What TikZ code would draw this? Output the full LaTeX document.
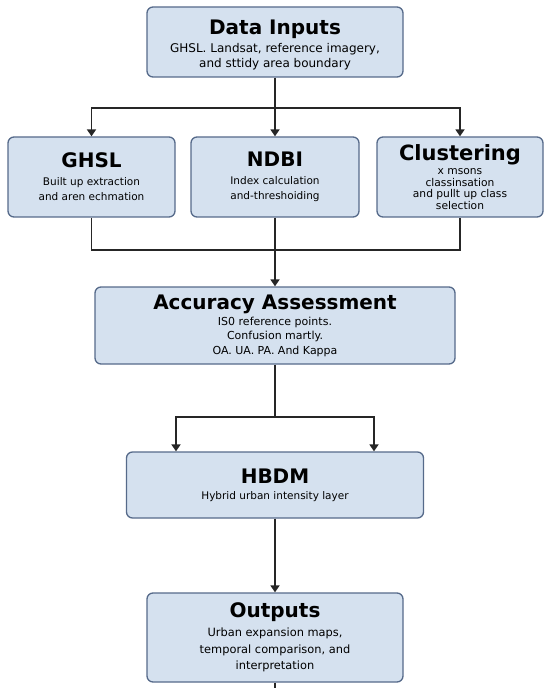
\documentclass[tikz,border=0pt]{standalone}
\usepackage{fontspec}
\setmainfont{DejaVu Sans}
\usetikzlibrary{arrows.meta,positioning}
\definecolor{blokfill}{HTML}{D5E1EF}
\definecolor{blokline}{HTML}{566A8A}
\definecolor{caraclr}{HTML}{262626}
\newcommand{\nadpis}[1]{{\fontsize{20}{22}\selectfont\bfseries #1}}
\tikzset{
  blok/.style={rectangle,rounded corners=6pt,draw=blokline,fill=blokfill,line width=1.3pt,align=center,inner sep=0pt},
  popis/.style={font=\fontsize{10.5}{15}\selectfont},
  cara/.style={draw=caraclr,line width=1.8pt},
  sipka/.style={cara,-{Triangle[length=7pt,width=9pt]}},
}

\begin{document}
\begin{tikzpicture}[x=1pt,y=-1pt]
\useasboundingbox (0,0) rectangle (550,692);
% bloky
\node[blok,font=\fontsize{12}{15}\selectfont,minimum width=256pt,minimum height=70pt] (vstup) at (275,42)
  {\rule{0pt}{21pt}\nadpis{Data Inputs}\\[3pt] GHSL. Landsat, reference imagery,\\ and sttidy area boundary};
\node[blok,popis,minimum width=167pt,minimum height=80pt] (ghsl) at (91.5,177)
  {\nadpis{GHSL}\\[3pt] Built up extraction\\ and aren echmation};
\node[blok,popis,minimum width=168pt,minimum height=80pt] (ndbi) at (275,177)
  {\nadpis{NDBI}\\[3pt] Index calculation\\ and-threshoiding};
\node[blok,font=\fontsize{10.7}{11.5}\selectfont,minimum width=166pt,minimum height=80pt] (klastr) at (460,177)
  {{\fontsize{21}{22}\selectfont\bfseries Clustering}\\[3pt] x msons\\ classinsation\\ and pullt up class\\ selection};
\node[blok,font=\fontsize{11}{14.5}\selectfont,minimum width=360pt,minimum height=77pt] (presnost) at (275,325.5)
  {\nadpis{Accuracy Assessment}\\[1.5pt] IS0 reference points.\\ Confusion martly.\\ OA. UA. PA. And Kappa};
\node[blok,popis,minimum width=297pt,minimum height=66pt] (hbdm) at (275,485)
  {\nadpis{HBDM}\\[1pt] Hybrid urban intensity layer};
\node[blok,font=\fontsize{11.4}{16.5}\selectfont,minimum width=256pt,minimum height=89pt] (vystup) at (275,637.5)
  {\nadpis{Outputs}\\[2.5pt] Urban expansion maps,\\ temporal comparison, and\\ interpretation};
% body vetveni
\coordinate (rozv1) at (275,108);
\coordinate (spoj1) at (275,250);
\coordinate (rozv2) at (275,417);
\coordinate (konec) at (275,688);
% spoje
\draw[cara] (vstup.south) -- (rozv1);
\draw[sipka] (rozv1) -| (ghsl.north);
\draw[sipka] (rozv1) -- (ndbi.north);
\draw[sipka] (rozv1) -| (klastr.north);
\draw[cara] (ghsl.south) |- (spoj1) -| (klastr.south);
\draw[cara] (ndbi.south) -- (spoj1);
\draw[sipka] (spoj1) -- (presnost.north);
\draw[cara] (presnost.south) -- (rozv2);
\draw[sipka] (rozv2) -| ([xshift=-99pt]hbdm.north);
\draw[sipka] (rozv2) -| ([xshift=99pt]hbdm.north);
\draw[sipka] (hbdm.south) -- (vystup.north);
\draw[cara] (vystup.south) -- (konec);
\end{tikzpicture}
\end{document}
